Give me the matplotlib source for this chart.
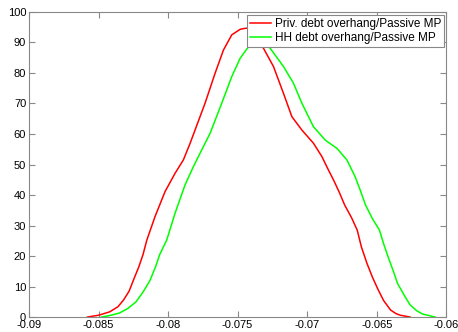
import numpy as np
import matplotlib.pyplot as plt

plt.rcParams['font.family'] = ['Liberation Sans', 'DejaVu Sans']

# Kernel density estimates
priv_x = [-0.0858, -0.0850, -0.0842, -0.0836, -0.0832, -0.0828, -0.0825, -0.0821,
          -0.0818, -0.08153, -0.08094, -0.08022, -0.0795, -0.0789, -0.07842, -0.07806,
          -0.07734, -0.07662, -0.07602, -0.07542, -0.07482, -0.0745, -0.0741, -0.0737,
          -0.07314, -0.07242, -0.0717, -0.0711, -0.07038, -0.06955, -0.06894, -0.06847,
          -0.0681, -0.0677, -0.0673, -0.0668, -0.0664, -0.0661, -0.0657, -0.0653,
          -0.0649, -0.0645, -0.0640, -0.0636, -0.0633, -0.0626]
priv_y = [0, 0.6, 1.7, 3.4, 5.6, 8.5, 12, 16.5,
          20.5, 25.2, 32.9, 41.1, 47.1, 51.5, 56.9, 61.3,
          70.1, 79.9, 87.5, 92.5, 94.3, 94.6, 94.8, 93,
          88.1, 82.1, 73.3, 65.7, 61.3, 57, 52.6, 48.2,
          44.9, 41, 36.7, 32.5, 28.5, 23, 17.6, 13,
          9, 5.4, 2.3, 1.1, 0.6, 0]

hh_x = [-0.0848, -0.0843, -0.0835, -0.0829, -0.0823, -0.0818, -0.0813, -0.0809,
        -0.0806, -0.0801, -0.0795, -0.07878, -0.07818, -0.07758, -0.07698, -0.07614,
        -0.07542, -0.07482, -0.07422, -0.0737, -0.0733, -0.07266, -0.0717, -0.07098,
        -0.07038, -0.06955, -0.0687, -0.06786, -0.06714, -0.06655, -0.0662, -0.0658,
        -0.0653, -0.0648, -0.0645, -0.0642, -0.0638, -0.0635, -0.0630, -0.0626,
        -0.0621, -0.0617, -0.0608]
hh_y = [0, 0.4, 1.3, 2.8, 5, 8.2, 12, 16.5,
        20.5, 25.2, 34, 43.3, 49.3, 54.8, 60.2, 70.1,
        78.8, 84.8, 88.6, 91.3, 90.8, 88.1, 82.1, 76.6,
        70.1, 62.4, 58, 55.3, 51.5, 46, 41.8, 36.7,
        32.2, 28.5, 24, 20, 15, 11, 7, 4,
        2, 1, 0]

labels = ["Priv. debt overhang/Passive MP", "HH debt overhang/Passive MP"]

fig = plt.figure(figsize=(4.58, 3.32), dpi=100)
ax = fig.add_axes([0.0633, 0.045, 0.911, 0.919])

ax.plot(priv_x, priv_y, color='#ff0000', lw=1.1, label=labels[0])
ax.plot(hh_x, hh_y, color='#00ff00', lw=1.1, label=labels[1])

ax.set_xlim(-0.09, -0.06)
ax.set_ylim(0, 100)
xt = np.arange(-0.09, -0.0599, 0.005)
ax.set_xticks(xt)
ax.set_xticklabels([f"{v:g}" for v in np.round(xt, 3)])
ax.set_yticks(np.arange(0, 101, 10))

ax.tick_params(direction='in', top=True, right=True, length=4, width=0.8,
               color='#888888', labelsize=8, pad=2)
for s in ax.spines.values():
    s.set_color('#888888')
    s.set_linewidth(0.8)

leg = ax.legend(loc='upper right', bbox_to_anchor=(0.995, 0.99), borderaxespad=0,
                fontsize=8.5, fancybox=False, handlelength=1.8, handletextpad=0.3,
                borderpad=0.25, labelspacing=0.15, framealpha=1)
leg.get_frame().set_edgecolor('#888888')
leg.get_frame().set_linewidth(0.8)

fig.savefig('out.png', dpi=100)
